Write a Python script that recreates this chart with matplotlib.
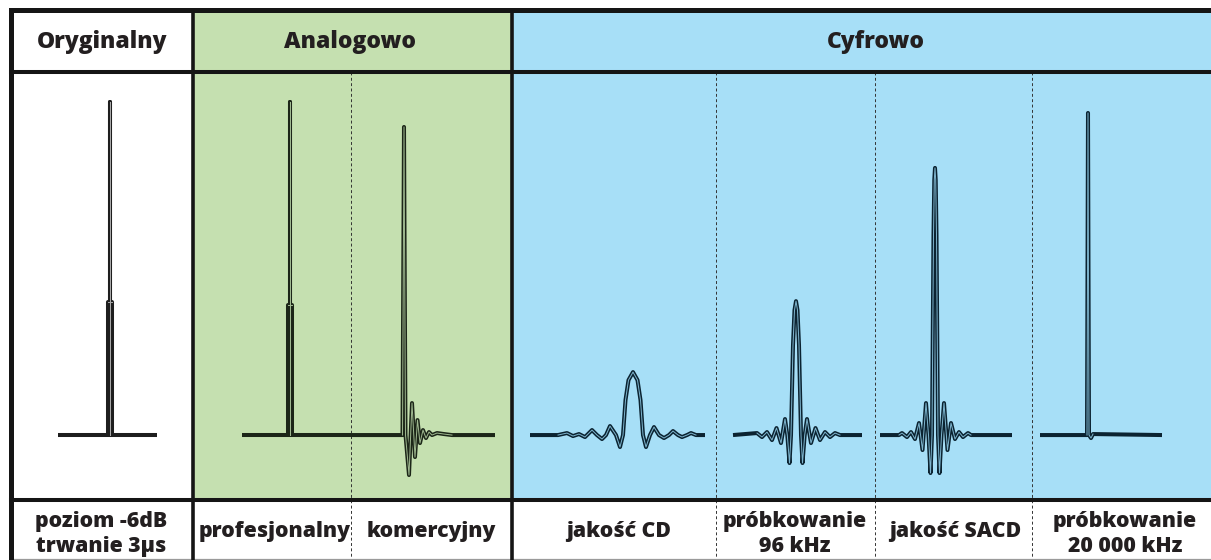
import numpy as np
import matplotlib
matplotlib.use('Agg')
import matplotlib.pyplot as plt
from matplotlib.patches import Rectangle

plt.rcParams['font.family'] = ['Open Sans', 'DejaVu Sans']

# ---------------- data ----------------
group_titles = ['Oryginalny', 'Analogowo', 'Cyfrowo']
panel_labels = ['poziom -6dB\ntrwanie 3µs', 'profesjonalny', 'komercyjny',
                'jakość CD', 'próbkowanie\n96 kHz', 'jakość SACD',
                'próbkowanie\n20 000 kHz']
panel_group = [0, 1, 1, 2, 2, 2, 2]

# impulse responses: time offset from main peak (arbitrary units), level (% of original pulse)
orig_t = [-52, 0, 0, 0, 47]
orig_lvl = [0, 0, 100, 0, 0]
orig_t2 = [-2, -2, 2, 2]
orig_lvl2 = [0, 40, 40, 0]

pro_t = [-48, 0, 0, 0, 70]
pro_lvl = [0, 0, 100, 0, 0]
pro_t2 = [-2, -2, 2, 2]
pro_lvl2 = [0, 39, 39, 0]

kom_t = [-60, -1.5, 0, 1.5, 5, 8, 11, 13.5, 16, 19, 22, 25, 28, 33, 40, 48, 91]
kom_lvl = [0, 0, 92.5, 0, -12, 9.6, -6.6, 4.5, -2.4, 1.5, -0.9, 0.9, 0, 0.6, 0.3, 0, 0]

cd_t = [-103, -75, -66, -60, -54, -48, -41, -36, -31, -27, -23, -17, -13, -10, -7.5, -4.5,
        0, 4.5, 7.5, 10, 13, 17, 21, 26, 31, 36, 40, 45, 49, 54, 58, 63, 72]
cd_lvl = [0, 0, 0.6, -0.3, 0.3, -0.6, 1.5, 0, -1.2, 0, 2.7, 0, -3.6, 0, 10.5, 16.5,
          18.9, 16.5, 10.5, 0, -3.6, 0, 2.4, 0, -0.9, 0, 1.2, 0, -0.6, 0, 0.6, 0, 0]

k96_t = [-63, -39, -34, -29, -24, -19.5, -15, -11, -8.7, -6.5, -5, -3, -1.5,
         0, 1.5, 3, 5, 6.5, 8.7, 11, 15, 19.5, 24, 29, 34, 39, 44, 66]
k96_lvl = [0, 0.6, -0.6, 0.9, -1.5, 2.1, -2.4, 4.8, 0, -8.4, 0, 27, 37.5,
           40.2, 37.5, 27, 0, -8.4, 0, 4.8, -2.4, 2.1, -1.5, 0.9, -0.6, 0.6, 0, 0]

sacd_t = [-55, -36, -33, -28, -24, -20, -16, -12.5, -9, -6.5, -4.5, -3, -1.5, -0.7,
          0, 0.7, 1.5, 3, 4.5, 6.5, 9, 12.5, 16, 20, 24, 28, 33, 36, 77]
sacd_lvl = [0, 0, 0.6, -0.6, 0.9, -1.2, 3.6, -4.5, 9.6, 0, -11.4, 0, 60, 76.6,
            80.2, 76.6, 60, 0, -11.4, 0, 9.6, -4.5, 3.6, -1.2, 0.9, -0.6, 0.6, 0, 0]

k20m_t = [-48, -1, 0, 1, 3, 5, 74]
k20m_lvl = [0, 0, 96.7, 0, -0.9, 0.3, 0]

waves = [
    [(orig_t, orig_lvl), (orig_t2, orig_lvl2)],
    [(pro_t, pro_lvl), (pro_t2, pro_lvl2)],
    [(kom_t, kom_lvl)],
    [(cd_t, cd_lvl)],
    [(k96_t, k96_lvl)],
    [(sacd_t, sacd_lvl)],
    [(k20m_t, k20m_lvl)],
]

# ---------------- layout / style ----------------
W, H = 1211, 560
fig = plt.figure(figsize=(W / 100, H / 100), dpi=100)
bg = fig.add_axes([0, 0, 1, 1])
bg.set_xlim(0, W)
bg.set_ylim(H, 0)
bg.axis('off')

group_fill = ['white', '#C5E0B0', '#A7DFF7']
group_dark = ['#1e1e1e', '#1c2618', '#0b2331']
group_inner = ['#a8a8a8', '#9fb890', '#7fb6cf']
group_x = [(10.5, 192.5), (192.5, 511.5), (511.5, 1240)]
group_text_x = [102, 350, 876]

panel_x = [(10.5, 192.5), (192.5, 351), (351, 511.5), (511.5, 716),
           (716, 875), (875, 1032), (1032, 1240)]
panel_peak = [110, 290, 404, 633, 796, 935, 1088]
label_x = [101, 275, 431, 619, 795, 955, 1125]

y_top, y_head, y_img, y_bot = 9.5, 72, 500, 559

# fills
for (x0, x1), fc in zip(group_x, group_fill):
    bg.add_patch(Rectangle((x0, y_top), x1 - x0, y_img - y_top, fc=fc, ec='none', zorder=0))

# dotted sub-separators
for x in [351, 716, 875, 1032]:
    bg.plot([x, x], [y_head, y_bot], color='#333333', lw=0.7,
            linestyle=(0, (3, 2.5)), zorder=1)

# thick borders
kw = dict(color='#151515', solid_capstyle='projecting', zorder=3)
bg.plot([10.5, W], [y_top, y_top], lw=3.6, **kw)
bg.plot([10.5, 10.5], [y_top, H], lw=3.6, **kw)
bg.plot([10.5, W], [y_head, y_head], lw=2.9, **kw)
bg.plot([10.5, W], [y_img, y_img], lw=2.9, **kw)
for x in [192.5, 511.5]:
    bg.plot([x, x], [y_top, H], lw=2.6, **kw)
bg.plot([10.5, W], [y_bot, y_bot], color='#9a9a9a', lw=0.9, zorder=2)

txt = dict(ha='center', va='center', fontweight='heavy', color='#231F20')
for name, x in zip(group_titles, group_text_x):
    bg.text(x, 41.5, name, fontsize=16.5, **txt)
for lab, x in zip(panel_labels, label_x):
    two = '\n' in lab
    bg.text(x, 534 if two else 531, lab, fontsize=15.3, linespacing=1.25, **txt)

# waveform panels
ylo, yhi = -19.5, 109.0
for i, ((x0, x1), xp, g) in enumerate(zip(panel_x, panel_peak, panel_group)):
    x1c = min(x1, W)
    ax = fig.add_axes([x0 / W, 1 - y_img / H, (x1c - x0) / W, (y_img - y_head) / H])
    ax.set_xlim(x0 - xp, x1c - xp)
    ax.set_ylim(ylo, yhi)
    ax.axis('off')
    ax.patch.set_alpha(0)
    for t, lvl in waves[i]:
        t = np.asarray(t, float)
        lvl = np.asarray(lvl, float)
        ax.plot(t, lvl, color=group_dark[g], lw=2.9, solid_joinstyle='round',
                solid_capstyle='butt', zorder=2)
        ax.plot(t[1:-1], lvl[1:-1], color=group_inner[g], lw=0.7,
                solid_joinstyle='round', zorder=3)

fig.savefig('out.png', dpi=100)
